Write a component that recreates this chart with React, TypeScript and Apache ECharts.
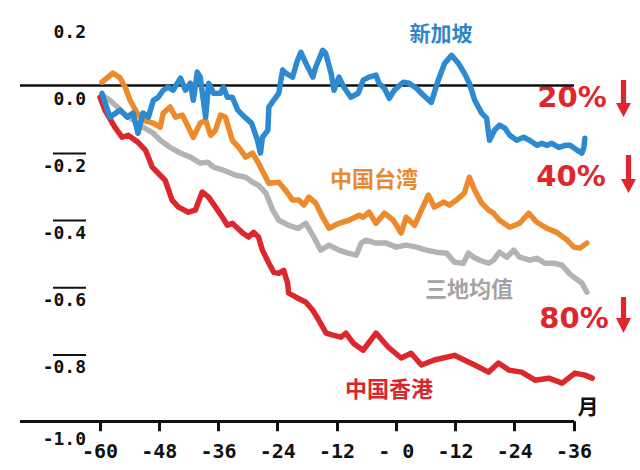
import React, { useEffect, useRef } from "react";
import * as echarts from "echarts";

// 新加坡 (Singapore)
const sgMonths = [-59.6, -58.0, -55.9, -54.5, -53.3, -52.3, -51.3, -50.2, -49.2, -48.2, -47.2, -46.2, -45.2, -43.7, -42.7, -41.7, -41.1, -40.3, -39.7, -38.6, -38.0, -37.0, -35.6, -35.0, -34.2, -33.2, -32.1, -30.7, -29.3, -28.1, -27.5, -27.1, -26.0, -25.8, -24.4, -23.8, -23.0, -22.4, -21.0, -20.0, -19.3, -18.3, -16.9, -16.3, -14.9, -14.3, -13.2, -12.6, -11.6, -10.6, -9.2, -7.7, -6.7, -5.5, -4.1, -3.5, -2.4, -1.4, -0.4, 1.4, 2.6, 4.1, 5.5, 7.1, 8.5, 9.8, 11.2, 12.6, 13.8, 14.8, 15.9, 17.3, 18.3, 18.9, 19.9, 20.9, 22.0, 23.0, 24.4, 25.8, 27.0, 28.5, 29.5, 30.5, 31.5, 32.9, 34.2, 35.2, 36.6, 37.6, 38.0, 38.2];
const sgValues = [-0.024, -0.095, -0.074, -0.095, -0.083, -0.143, -0.083, -0.095, -0.045, -0.036, -0.015, -0.006, -0.015, 0.021, -0.015, 0.006, -0.045, 0.039, 0.024, -0.095, 0.006, -0.024, -0.024, -0.006, -0.036, -0.036, -0.074, -0.095, -0.113, -0.164, -0.202, -0.155, -0.134, -0.065, -0.036, -0.024, 0.045, 0.036, 0.024, 0.074, 0.098, 0.065, 0.024, 0.054, 0.104, 0.095, 0.036, -0.015, 0.024, -0.006, -0.036, -0.024, 0.015, 0.024, 0.030, 0.006, -0.009, -0.039, -0.015, 0.009, 0.006, -0.009, -0.030, -0.051, 0.015, 0.065, 0.089, 0.065, 0.036, 0.006, -0.045, -0.083, -0.098, -0.164, -0.134, -0.119, -0.128, -0.149, -0.164, -0.155, -0.164, -0.179, -0.173, -0.179, -0.173, -0.185, -0.179, -0.179, -0.193, -0.202, -0.185, -0.158];

// 中国台湾 (Taiwan)
const twMonths = [-59.6, -57.4, -55.9, -54.9, -53.9, -52.5, -51.3, -49.2, -47.8, -47.2, -45.8, -44.7, -43.3, -42.3, -41.1, -39.7, -38.6, -37.6, -36.6, -35.6, -34.6, -33.2, -31.9, -30.5, -29.1, -27.9, -25.8, -23.8, -22.4, -21.0, -19.7, -18.7, -17.7, -16.3, -14.9, -13.6, -11.6, -9.6, -7.5, -6.7, -5.5, -4.1, -2.4, -0.6, 1.0, 2.0, 3.7, 5.1, 6.5, 7.7, 9.6, 10.8, 12.2, 13.8, 14.8, 15.9, 17.3, 18.7, 19.7, 20.9, 23.0, 25.0, 26.8, 28.5, 30.5, 32.5, 34.6, 36.0, 37.2, 38.6];
const twValues = [0.009, 0.036, 0.021, -0.006, -0.045, -0.083, -0.104, -0.113, -0.125, -0.083, -0.065, -0.095, -0.089, -0.119, -0.155, -0.113, -0.104, -0.149, -0.134, -0.089, -0.095, -0.164, -0.185, -0.214, -0.202, -0.232, -0.292, -0.289, -0.313, -0.342, -0.342, -0.357, -0.333, -0.351, -0.393, -0.426, -0.411, -0.402, -0.387, -0.393, -0.378, -0.411, -0.381, -0.402, -0.440, -0.393, -0.417, -0.372, -0.327, -0.363, -0.348, -0.357, -0.342, -0.321, -0.274, -0.313, -0.351, -0.372, -0.381, -0.402, -0.423, -0.411, -0.381, -0.408, -0.426, -0.438, -0.461, -0.482, -0.485, -0.470];

// 三地均值 (three-market average)
const avgMonths = [-59.6, -58.0, -56.5, -55.3, -53.3, -51.3, -49.2, -47.8, -45.8, -43.7, -41.7, -39.7, -38.2, -37.0, -35.0, -32.5, -30.5, -29.1, -27.9, -26.4, -25.0, -23.8, -21.8, -19.9, -18.3, -16.7, -15.3, -13.6, -11.6, -9.8, -8.1, -7.1, -6.1, -4.1, -2.0, 0.0, 2.0, 4.1, 6.1, 8.1, 10.2, 11.8, 13.6, 14.6, 15.7, 16.9, 18.7, 19.7, 20.9, 22.4, 23.8, 25.0, 27.0, 28.5, 30.1, 31.9, 33.6, 35.0, 36.2, 37.6, 38.6];
const avgValues = [-0.030, -0.045, -0.065, -0.083, -0.104, -0.125, -0.143, -0.164, -0.185, -0.202, -0.214, -0.232, -0.229, -0.244, -0.253, -0.268, -0.274, -0.289, -0.298, -0.321, -0.372, -0.402, -0.417, -0.426, -0.411, -0.452, -0.491, -0.476, -0.491, -0.500, -0.506, -0.470, -0.461, -0.470, -0.470, -0.482, -0.476, -0.482, -0.491, -0.497, -0.500, -0.527, -0.530, -0.500, -0.512, -0.521, -0.530, -0.521, -0.497, -0.512, -0.491, -0.512, -0.521, -0.515, -0.530, -0.530, -0.536, -0.560, -0.574, -0.589, -0.616];

// 中国香港 (Hong Kong)
const hkMonths = [-60.0, -59.0, -57.0, -55.5, -54.3, -52.3, -50.8, -49.4, -48.2, -46.8, -45.4, -44.1, -42.1, -40.7, -39.3, -38.0, -36.6, -35.2, -34.2, -33.2, -31.1, -29.9, -28.9, -27.9, -27.1, -25.8, -24.8, -23.8, -22.8, -22.0, -21.8, -20.3, -18.3, -16.9, -15.7, -14.2, -12.8, -11.2, -10.2, -8.7, -6.7, -4.1, -1.6, 1.0, 3.0, 5.1, 7.7, 11.8, 14.6, 15.9, 18.7, 20.7, 22.8, 25.4, 28.1, 30.9, 33.6, 36.2, 38.2, 39.7];
const hkValues = [-0.036, -0.074, -0.125, -0.155, -0.149, -0.170, -0.193, -0.244, -0.262, -0.283, -0.342, -0.363, -0.378, -0.372, -0.318, -0.333, -0.363, -0.393, -0.417, -0.411, -0.440, -0.452, -0.438, -0.452, -0.491, -0.530, -0.557, -0.560, -0.551, -0.589, -0.619, -0.631, -0.646, -0.670, -0.699, -0.738, -0.744, -0.750, -0.738, -0.768, -0.789, -0.738, -0.780, -0.812, -0.798, -0.833, -0.818, -0.804, -0.824, -0.833, -0.854, -0.827, -0.848, -0.854, -0.878, -0.872, -0.887, -0.857, -0.863, -0.872];

const xTickValues = [-60, -48, -36, -24, -12, 0, 12, 24, 36];
const xTickLabels = ["-60", "-48", "-36", "-24", "-12", "- 0", "-12", "-24", "-36"];
const yTickValues = [0.2, 0, -0.2, -0.4, -0.6, -0.8, -1.0];
const yTickLabels = ["0.2", "0.0", "-0.2", "-0.4", "-0.6", "-0.8", "-1.0"];
const X_START = -76.2; // left end of the drawn axis lines
const X_END = 36; // right end of the drawn axis lines
const X_VIEW_MAX = 40; // series run slightly past the last tick
const Y_BASE = -1; // bottom axis value
const Y_VIEW_MIN = -1.04; // room below the bottom axis for the ticks
const TICK_DEPTH = 0.03; // tick length in value units (below the bottom axis)

const BLUE = "#2d8ad0";
const ORANGE = "#ec8a2c";
const GRAY = "#b3b3b3";
const RED = "#dc282d";

const zip = (xs: number[], ys: number[]) => xs.map((x, i) => [x, ys[i]]);

function arrow(cx: number, top: number, headTop: number, tip: number) {
  return {
    type: "polygon",
    shape: {
      points: [
        [cx - 2.6, top], [cx + 2.6, top], [cx + 2.6, headTop], [cx + 7.5, headTop],
        [cx, tip], [cx - 7.5, headTop], [cx - 2.6, headTop],
      ],
    },
    style: { fill: "#e0262d" },
  };
}

function label(text: string, x: number, y: number, color: string, size: number, weight: string, family: string) {
  return {
    type: "text",
    x,
    y,
    style: { text, fill: color, fontSize: size, fontWeight: weight, fontFamily: family, align: "center", verticalAlign: "middle" },
  };
}

export default function App() {
  const ref = useRef<HTMLDivElement>(null);
  useEffect(() => {
    if (!ref.current) return;
    const chart = echarts.init(ref.current, undefined, { renderer: "svg" });
    const lineBase = (name: string, color: string, data: number[][], z: number) => ({
      name,
      type: "line",
      data,
      showSymbol: false,
      symbol: "none",
      clip: false,
      z,
      lineStyle: { color, width: 5.5, cap: "round", join: "round" },
    });
    const cjk = "'Noto Sans CJK SC', sans-serif";
    const num = "'DejaVu Sans', sans-serif";
    const axisStyle = { color: "#111", width: 3, type: "solid" };
    const tickSegments = xTickValues.map((v) => [
      { coord: [v, Y_BASE], lineStyle: axisStyle },
      { coord: [v, Y_BASE - TICK_DEPTH] },
    ]);
    chart.setOption({
      animation: false,
      backgroundColor: "#ffffff",
      grid: { left: 20, right: 46.25, top: 18, bottom: 35.4, containLabel: false },
      xAxis: {
        type: "value",
        min: X_START,
        max: X_VIEW_MAX,
        splitLine: { show: false },
        axisLine: { show: false },
        axisTick: { show: false },
        axisLabel: {
          show: true,
          customValues: xTickValues,
          margin: 6,
          color: "#111",
          fontSize: 20,
          fontWeight: "bold",
          fontFamily: "'DejaVu Sans Mono', monospace",
          formatter: (v: number) => {
            const i = xTickValues.findIndex((t) => Math.abs(t - v) < 1e-6);
            return i >= 0 ? xTickLabels[i] : "";
          },
        },
      },
      yAxis: {
        type: "value",
        min: Y_VIEW_MIN,
        max: 0.2,
        splitLine: { show: false },
        axisLine: { show: false },
        axisTick: { show: false },
        axisLabel: {
          show: true,
          customValues: yTickValues,
          margin: -66,
          verticalAlign: "top",
          formatter: (v: number) => {
            const i = yTickValues.findIndex((t) => Math.abs(t - v) < 1e-6);
            if (i < 0) return "";
            const s = yTickLabels[i];
            if (v < -0.01 && v > -0.99) return "{bar| }\n{t|" + s + "}";
            if (v <= -0.99) return "{gap2| }\n{t|" + s + "}";
            return "{gap| }\n{t|" + s + "}";
          },
          rich: {
            bar: { width: 33, height: 2, lineHeight: 2, fontSize: 2, backgroundColor: "#111" },
            gap: { width: 33, height: 2, lineHeight: 2, fontSize: 2 },
            gap2: { width: 33, height: 6, lineHeight: 6, fontSize: 2 },
            t: { fontSize: 18, fontWeight: "bold", fontFamily: "'DejaVu Sans Mono', monospace", color: "#111", lineHeight: 22 },
          },
        },
      },
      series: [
        {
          ...lineBase("三地均值", GRAY, zip(avgMonths, avgValues), 2),
          markLine: {
            silent: true,
            symbol: ["none", "none"],
            label: { show: false },
            z: 1,
            data: [
              [
                { coord: [X_START, 0], lineStyle: { color: "#111", width: 2.6, type: "solid" } },
                { coord: [X_END, 0] },
              ],
              [
                { coord: [X_START, Y_BASE], lineStyle: axisStyle },
                { coord: [X_END, Y_BASE] },
              ],
              ...tickSegments,
            ],
          },
        },
        lineBase("中国香港", RED, zip(hkMonths, hkValues), 3),
        lineBase("中国台湾", ORANGE, zip(twMonths, twValues), 4),
        lineBase("新加坡", BLUE, zip(sgMonths, sgValues), 5),
      ],
      graphic: [
        label("新加坡", 441, 32, "#2e86c8", 21, "bold", cjk),
        label("中国台湾", 374, 177, "#e8892e", 22, "bold", cjk),
        label("三地均值", 469, 287, "#a3a3a3", 22, "bold", cjk),
        label("中国香港", 389, 387, "#d8262c", 22, "bold", cjk),
        label("20%", 572, 97, "#e0262d", 29, "bold", num),
        label("40%", 571, 176, "#e0262d", 29, "bold", num),
        label("80%", 574, 318, "#e0262d", 29, "bold", num),
        label("月", 588, 405, "#111", 21, "bold", cjk),
        arrow(623.5, 80, 103, 117),
        arrow(628.5, 155, 179, 193),
        arrow(623.5, 297, 318, 333),
      ],
    });
    return () => chart.dispose();
  }, []);
  return <div ref={ref} style={{ position: "fixed", left: 0, top: 0, width: 640, height: 470 }} />;
}
